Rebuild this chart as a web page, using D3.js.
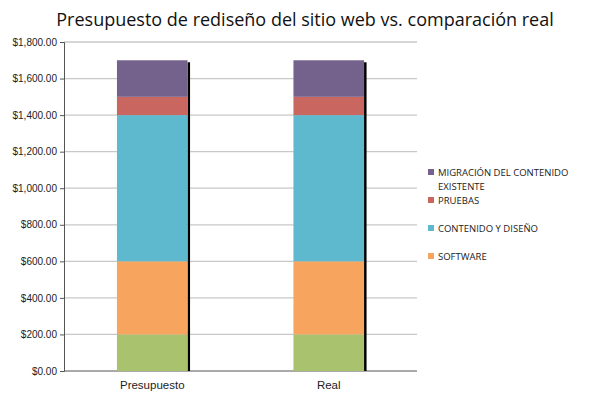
<!DOCTYPE html>
<html><head><meta charset="utf-8">
<script src="https://cdn.jsdelivr.net/npm/d3@7"></script>
<style>body{margin:0;background:#fff}</style>
</head><body><div id="chart"></div>
<script>
// DATOS
const categorias = ["Presupuesto", "Real"]
const series = ["OTROS", "SOFTWARE", "CONTENIDO Y DISEÑO", "PRUEBAS", "MIGRACIÓN DEL CONTENIDO EXISTENTE"]
const valores = {
    "OTROS": [200, 200],
    "SOFTWARE": [400, 400],
    "CONTENIDO Y DISEÑO": [800, 800],
    "PRUEBAS": [100, 100],
    "MIGRACIÓN DEL CONTENIDO EXISTENTE": [200, 200]
}
const colores = ["#a9c26e", "#f6a45e", "#5fb9ce", "#c9665f", "#74628c"]
const ticks = [0, 200, 400, 600, 800, 1000, 1200, 1400, 1600, 1800]
const leyenda = [
    {s: "MIGRACIÓN DEL CONTENIDO EXISTENTE", lines: ["MIGRACIÓN DEL CONTENIDO", "EXISTENTE"], y: 173},
    {s: "PRUEBAS", lines: ["PRUEBAS"], y: 201},
    {s: "CONTENIDO Y DISEÑO", lines: ["CONTENIDO Y DISEÑO"], y: 229},
    {s: "SOFTWARE", lines: ["SOFTWARE"], y: 257}
]

const width = 611, height = 401
const margin = {left: 64, right: 194, top: 42, bottom: 30}
const font = "Open Sans, Liberation Sans, sans-serif"

const svg = d3.select("#chart").append("svg").attr("width", width).attr("height", height)
    .style("font-family", font)

let x = d3.scaleBand().domain(categorias).range([margin.left, width - margin.right]).paddingInner(0.6).paddingOuter(0.3)
let y = d3.scaleLinear().domain([0, 1800]).range([height - margin.bottom, margin.top])
let color = d3.scaleOrdinal().domain(series).range(colores)

// REJILLA
svg.append("g").selectAll("line").data(ticks.slice(1)).enter().append("line")
    .attr("x1", margin.left).attr("x2", width - margin.right)
    .attr("y1", d => y(d)).attr("y2", d => y(d))
    .attr("stroke", "#c8c8c8").attr("stroke-width", 1.3)

// EJES
const fmt = d => "$" + d3.format(",.2f")(d)
const yAxisGroup = svg.append("g").attr("transform", `translate(${margin.left},0)`)
    .call(d3.axisLeft(y).tickValues(ticks).tickFormat(fmt).tickSize(4))
yAxisGroup.selectAll("text").attr("font-size", 10).attr("fill", "#222")
yAxisGroup.select(".domain").attr("stroke", "#555")
yAxisGroup.selectAll(".tick line").attr("stroke", "#555")

const xAxisGroup = svg.append("g").attr("transform", `translate(0,${height - margin.bottom})`)
    .call(d3.axisBottom(x).tickSize(0).tickPadding(10))
xAxisGroup.selectAll("text").attr("font-size", 11.5).attr("fill", "#222")
xAxisGroup.select(".domain").attr("stroke", "#555").attr("d", `M${margin.left},0H${width - margin.right}`)

// BARRAS
const tabla = categorias.map((c, i) => {
    const o = {cat: c}
    series.forEach(s => o[s] = valores[s][i])
    return o
})
const stack = d3.stack().keys(series)(tabla)
const total = tabla.map(d => d3.sum(series, s => d[s]))

// sombra
svg.append("g").selectAll("rect").data(tabla).enter().append("rect")
    .attr("x", d => x(d.cat) + x.bandwidth())
    .attr("y", (d, i) => y(total[i]) + 2)
    .attr("width", 2.5)
    .attr("height", (d, i) => y(0) - y(total[i]) - 2)
    .attr("fill", "#000")

svg.append("g").selectAll("g").data(stack).enter().append("g")
    .attr("fill", d => color(d.key))
    .selectAll("rect").data(d => d).enter().append("rect")
    .attr("x", d => x(d.data.cat))
    .attr("y", d => y(d[1]))
    .attr("width", x.bandwidth())
    .attr("height", d => y(d[0]) - y(d[1]))

// TITULO
svg.append("text").attr("x", 305).attr("y", 26).attr("text-anchor", "middle")
    .attr("font-size", 18).attr("fill", "#111").text("Presupuesto de rediseño del sitio web vs. comparación real")

// LEYENDA
const lg = svg.append("g").selectAll("g").data(leyenda).enter().append("g")
lg.append("rect").attr("x", 428).attr("y", d => d.y - 4).attr("width", 6).attr("height", 6)
    .attr("fill", d => color(d.s))
lg.append("text").attr("x", 438).attr("y", d => d.y).attr("font-size", 9.5).attr("fill", "#222")
    .attr("dominant-baseline", "middle")
    .selectAll("tspan").data(d => d.lines).enter().append("tspan")
    .attr("x", 438).attr("dy", (d, i) => i ? 14 : 0).text(d => d)
</script>
</body></html>
